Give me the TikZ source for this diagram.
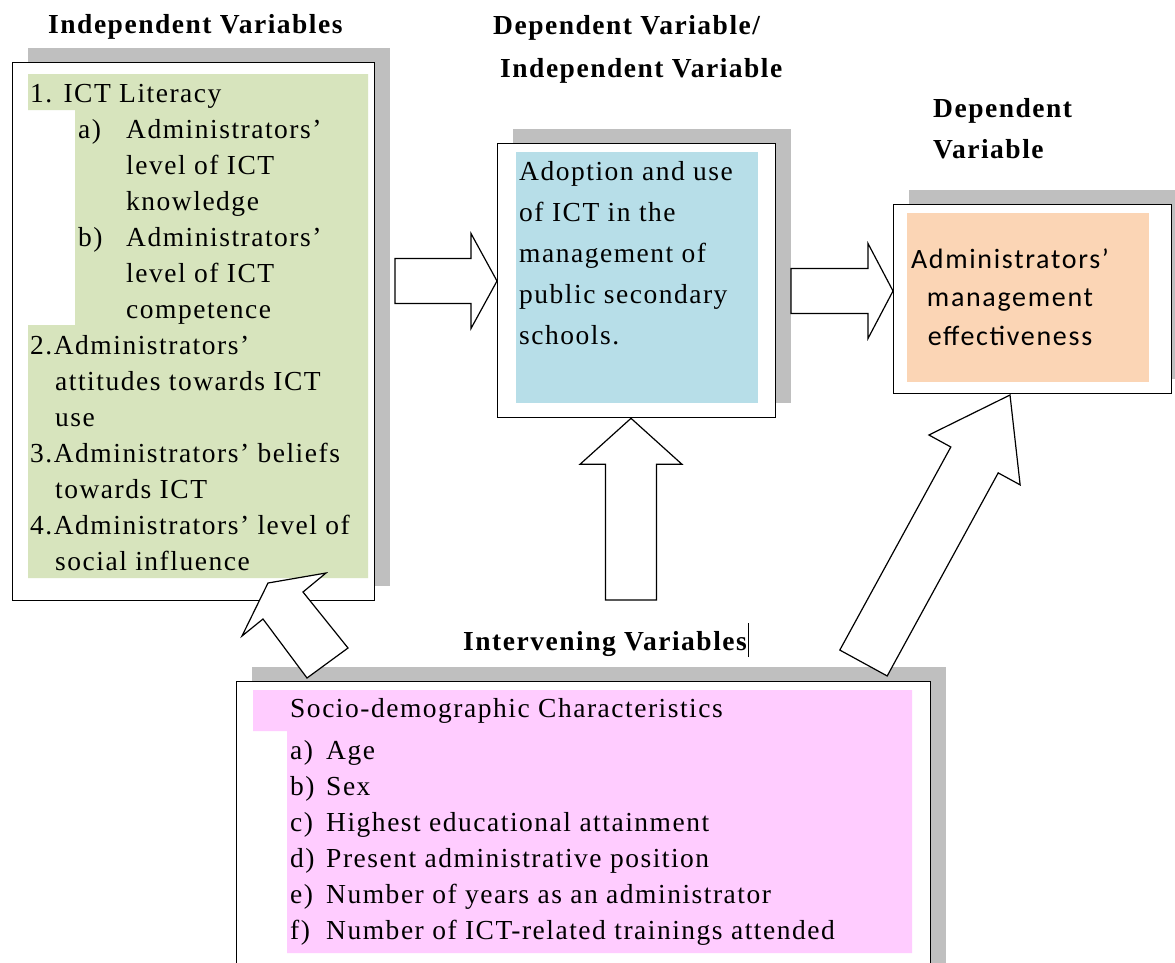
\documentclass[tikz,border=0pt]{standalone}
\usepackage{fontspec}
\setmainfont{Liberation Serif}[LetterSpace=5.5]
\newfontfamily\calibrifont{Carlito}[LetterSpace=6]
\usetikzlibrary{calc,shadows}

\definecolor{ictgreen}{HTML}{D7E4BD}
\definecolor{ictblue}{HTML}{B7DEE8}
\definecolor{ictorange}{HTML}{FBD5B5}
\definecolor{ictpink}{HTML}{FFCCFF}
\definecolor{shadowgray}{HTML}{BFBFBF}

% block arrow: tail, tip, half shaft, half head, head length
\newcommand{\blockarrow}[5]{%
  \coordinate (ba-b) at ($(#2)!#5!(#1)$);
  \draw[bigarrow] ($(#1)!#3!90:(#2)$) -- ($(ba-b)!#3!90:(#2)$) -- ($(ba-b)!#4!90:(#2)$)
    -- (#2) -- ($(ba-b)!#4!-90:(#2)$) -- ($(ba-b)!#3!-90:(#2)$) -- ($(#1)!#3!-90:(#2)$) -- cycle;}

\begin{document}
\begin{tikzpicture}[x=1pt, y=-1pt,
  box/.style={draw, line width=1.3pt, fill=white, inner sep=0pt, anchor=north west,
    drop shadow={shadow xshift=15pt, shadow yshift=15pt, fill=shadowgray, opacity=1}},
  bigarrow/.style={draw, line width=1.2pt, fill=white, line join=miter},
  txt/.style={anchor=base west, inner sep=0pt, font=\fontsize{27.5}{30}\selectfont},
  ctxt/.style={anchor=base, inner sep=0pt, font=\calibrifont\fontsize{28}{32}\selectfont},
  ttl/.style={anchor=base west, inner sep=0pt, font=\fontsize{27.5}{30}\selectfont\bfseries}]

\useasboundingbox (0,0) rectangle (1175,962);
\clip (0,0) rectangle (1175,962);

% boxes
\node[box, minimum width=362pt, minimum height=538pt] (indepbox) at (12,62) {};
\node[box, minimum width=278pt, minimum height=274pt] (adoptbox) at (497,143) {};
\node[box, minimum width=278pt, minimum height=189pt] (effectbox) at (893,204) {};
\node[box, minimum width=694pt, minimum height=300pt] (intervbox) at (236,681) {};

% coloured text areas
\fill[ictgreen] (28,74) -- (368,74) -- (368,578) -- (28,578) -- (28,325) -- (75,325) -- (75,110) -- (28,110) -- cycle;
\fill[ictblue] (516,152) rectangle (758,403);
\fill[ictorange] (907,213) rectangle (1149,382);
\fill[ictpink] (253,690) -- (912,690) -- (912,953) -- (287,953) -- (287,731) -- (253,731) -- cycle;

% titles
\node[ttl] (t-indep) at (48,33) {Independent Variables};
\node[ttl] (t-mid1) at (493,34) {Dependent Variable/};
\node[ttl] (t-mid2) at (500,77) {Independent Variable};
\node[ttl] (t-dep1) at (933,117) {Dependent};
\node[ttl] (t-dep2) at (933,158) {Variable};
\node[ttl] (t-interv) at (463,650) {Intervening Variables\kern1pt\rule[-7pt]{1pt}{34pt}};

% independent variables
\foreach \x/\t [count=\i from 0] in {30/1. ICT Literacy, 78/\makebox[48pt][l]{a)}Administrators’,
  126/level of ICT, 126/knowledge, 78/\makebox[48pt][l]{b)}Administrators’, 126/level of ICT,
  126/competence, 30/2.Administrators’, 55/attitudes towards ICT, 55/use,
  30/3.Administrators’ beliefs, 55/towards ICT, 30/4.Administrators’ level of, 55/social influence}
  \node[txt] (ind-\i) at (\x,{102+36*\i}) {\t};

% mediating variable
\foreach \t [count=\i from 0] in {Adoption and use, of ICT in the, management of, public secondary, schools.}
  \node[txt] (adopt-\i) at (519,{180+41*\i}) {\t};

% dependent variable
\foreach \t [count=\i from 0] in {Administrators’, management, effectiveness}
  \node[ctxt] (eff-\i) at (1010,{268+38.5*\i}) {\t};

% intervening variables
\node[txt] (soc-0) at (290,717) {Socio-demographic Characteristics};
\foreach \l/\t [count=\i from 0] in {a/Age, b/Sex, c/Highest educational attainment,
  d/Present administrative position, e/Number of years as an administrator,
  f/Number of ICT-related trainings attended}
  \node[txt] (soc-\l) at (290,{759+36*\i}) {\makebox[36pt][l]{\l)}\t};

% arrows
\coordinate (a1) at (395,281);
\coordinate (a2) at (791,291);
\coordinate (a3) at (631,600);
\coordinate (a4) at (863.5,663);
\coordinate (a4t) at (1010,395);
\blockarrow{a1}{a1 -| adoptbox.west}{22.5pt}{47.5pt}{26pt}
\blockarrow{a2}{a2 -| effectbox.west}{22.5pt}{47.5pt}{25pt}
\blockarrow{a3}{a3 |- adoptbox.south}{25.5pt}{51pt}{46pt}
\blockarrow{a4}{a4t}{27pt}{52pt}{74pt}
\draw[bigarrow] (307,678) -- (348,648) -- (303,592) -- (326,573) -- (268,583) -- (242,636) -- (263,619) -- cycle;

\end{tikzpicture}
\end{document}
